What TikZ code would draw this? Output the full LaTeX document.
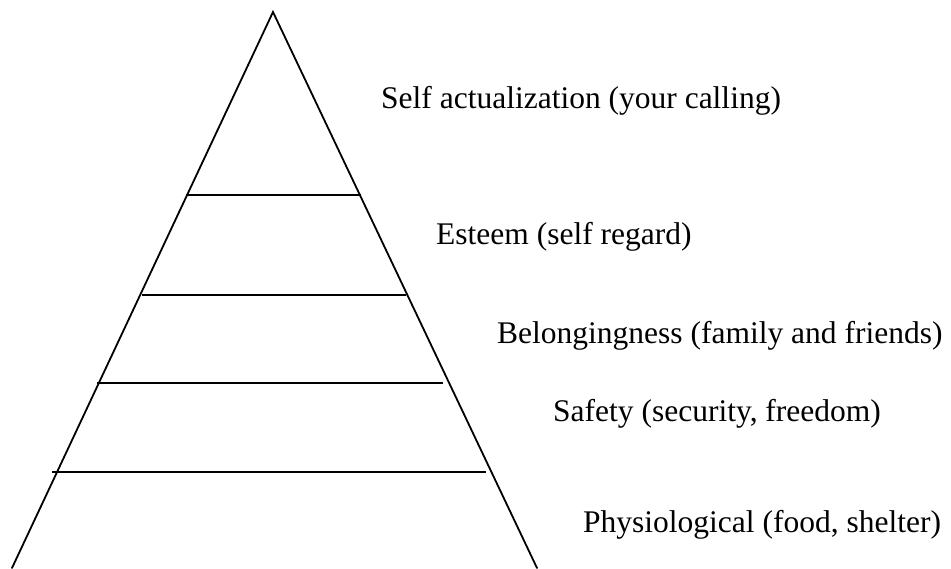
\documentclass[tikz,border=0pt]{standalone}
\usepackage{fontspec}
\setmainfont{Liberation Serif}
\begin{document}
\begin{tikzpicture}[x=1pt,y=-1pt,
  edge/.style={line width=1.8pt,line cap=round,line join=miter},
  lvl/.style={anchor=base west,inner sep=0pt,font=\fontsize{31.5}{36}\selectfont}]
\useasboundingbox (0,0) rectangle (951,568);
\coordinate (apex) at (273,12);
\coordinate (bl) at (12,568);
\coordinate (br) at (537,568);
\draw[edge] (bl) -- (apex) -- (br);
\coordinate (a1) at (186,195); \coordinate (b1) at (361,195);
\coordinate (a2) at (142,295); \coordinate (b2) at (406,295);
\coordinate (a3) at (97,383);  \coordinate (b3) at (443,383);
\coordinate (a4) at (52,472);  \coordinate (b4) at (486,472);
\draw[edge,line cap=butt] (a1) -- (b1);
\draw[edge,line cap=butt] (a2) -- (b2);
\draw[edge,line cap=butt] (a3) -- (b3);
\draw[edge,line cap=butt] (a4) -- (b4);
\node[lvl] (t1) at (381,108) {Self actualization (your calling)};
\node[lvl] (t2) at (436,244) {Esteem (self regard)};
\node[lvl] (t3) at (497,343) {Belongingness (family and friends)};
\node[lvl] (t4) at (553,421) {Safety (security, freedom)};
\node[lvl] (t5) at (583,532) {Physiological (food, shelter)};
\end{tikzpicture}
\end{document}
